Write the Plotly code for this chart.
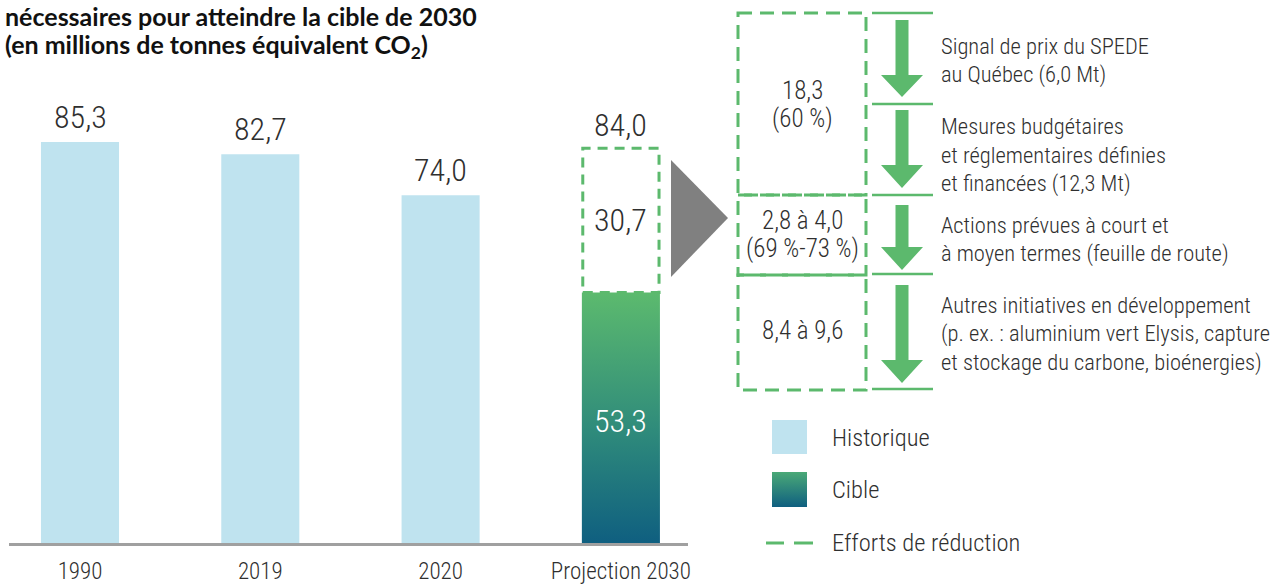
import plotly.graph_objects as go

# ---------------- data ----------------
categories = ["1990", "2019", "2020", "Projection 2030"]
historique = [85.3, 82.7, 74.0]
cible_2030 = 53.3
efforts_2030 = 30.7
projection_2030 = 84.0

title_lines = ["nécessaires pour atteindre la cible de 2030",
               "(en millions de tonnes équivalent CO<sub>2</sub>)"]

box_labels = [["18,3", "(60 %)"], ["2,8 à 4,0", "(69 %-73 %)"], ["8,4 à 9,6"]]
measure_labels = [
    ["Signal de prix du SPEDE", "au Québec (6,0 Mt)"],
    ["Mesures budgétaires", "et réglementaires définies", "et financées (12,3 Mt)"],
    ["Actions prévues à court et", "à moyen termes (feuille de route)"],
    ["Autres initiatives en développement",
     "(p. ex. : aluminium vert Elysis, capture",
     "et stockage du carbone, bioénergies)"],
]
legend_labels = ["Historique", "Cible", "Efforts de réduction"]


def fmt(v):
    return f"{v:.1f}".replace(".", ",")


# ---------------- style ----------------
W, H = 1287, 584
FONT = "Roboto Condensed, Liberation Sans Narrow, Roboto, Arial Narrow, sans-serif"
WT = 300
TXT = "#2f2f2f"
BLUE_LIGHT = "#bfe3ef"
GREEN = "#5cb96d"
GRAD = [[0.0, "#0f5f80"], [0.45, "#2f8b7b"], [1.0, "#5cba6e"]]
DASH = "14px,8px"
BAR_W = 0.433

fig = go.Figure()

# historic bars
fig.add_trace(go.Bar(
    x=list(range(len(historique))), y=historique, width=BAR_W,
    marker=dict(color=BLUE_LIGHT, line=dict(width=0)),
    hoverinfo="skip", showlegend=False, xaxis="x", yaxis="y"))

# target bar (gradient)
ci = 3
fig.add_trace(go.Scatter(
    x=[ci - BAR_W / 2, ci + BAR_W / 2, ci + BAR_W / 2, ci - BAR_W / 2, ci - BAR_W / 2],
    y=[0, 0, cible_2030, cible_2030, 0],
    mode="lines", line=dict(width=0), fill="toself",
    fillgradient=dict(type="vertical", colorscale=GRAD),
    hoverinfo="skip", showlegend=False, xaxis="x", yaxis="y"))

# legend gradient square (pixel axes, y reversed)
fig.add_trace(go.Scatter(
    x=[772, 807, 807, 772, 772], y=[472, 472, 507, 507, 472],
    mode="lines", line=dict(width=0), fill="toself",
    fillgradient=dict(type="vertical",
                      colorscale=[[0.0, "#0f5f80"], [1.0, "#4aa977"]]),
    hoverinfo="skip", showlegend=False, xaxis="x2", yaxis="y2"))

shapes = []
annotations = []

# efforts dashed box on projection bar
shapes.append(dict(type="rect", xref="x", yref="y",
                   x0=ci - BAR_W / 2 + 0.005, x1=ci + BAR_W / 2 - 0.005,
                   y0=cible_2030, y1=projection_2030,
                   line=dict(color=GREEN, width=3, dash="10px,7px")))

# value labels
LBL = 32
for i, v in enumerate(historique):
    annotations.append(dict(x=i, y=v, xref="x", yref="y", text=fmt(v),
                            showarrow=False, yshift=25,
                            font=dict(family=FONT, size=LBL, color=TXT, weight=WT)))
annotations.append(dict(x=ci, y=projection_2030, xref="x", yref="y",
                        text=fmt(projection_2030), showarrow=False, yshift=23,
                        font=dict(family=FONT, size=LBL, color=TXT, weight=WT)))
annotations.append(dict(x=ci, y=cible_2030 + efforts_2030 / 2, xref="x", yref="y",
                        text=fmt(efforts_2030), showarrow=False,
                        font=dict(family=FONT, size=LBL, color=TXT, weight=WT)))
annotations.append(dict(x=ci, y=cible_2030 / 2, xref="x", yref="y",
                        text=fmt(cible_2030), showarrow=False, yshift=-3,
                        font=dict(family=FONT, size=LBL, color="white", weight=WT)))

# title
for t, yy in zip(title_lines, [16, 46]):
    annotations.append(dict(x=3, y=yy, xref="x2", yref="y2", text=t,
                            showarrow=False, xanchor="left", yanchor="middle",
                            font=dict(family="Lato, Open Sans, sans-serif",
                                      size=25, color="#111111", weight="bold")))

# grey triangle
shapes.append(dict(type="path", xref="x2", yref="y2",
                   path="M 671,160 L 728,218 L 671,277 Z",
                   fillcolor="#808080", line=dict(width=0)))

# right-hand dashed boxes
for y0, y1 in [(13, 195), (195, 275), (275, 390)]:
    shapes.append(dict(type="rect", xref="x2", yref="y2",
                       x0=738, x1=866, y0=y0, y1=y1,
                       line=dict(color=GREEN, width=3, dash=DASH)))

# separators
for yy in [13, 104, 195, 274, 389]:
    shapes.append(dict(type="line", xref="x2", yref="y2",
                       x0=872, x1=933, y0=yy, y1=yy,
                       line=dict(color=GREEN, width=2.5)))

# arrows
cx = 902
for yt, yh, ytip in [(20, 75, 97), (110, 165, 188), (205, 247, 270), (285, 360, 383)]:
    p = (f"M {cx-6.5},{yt} L {cx+6.5},{yt} L {cx+6.5},{yh} L {cx+21},{yh} "
         f"L {cx},{ytip} L {cx-21},{yh} L {cx-6.5},{yh} Z")
    shapes.append(dict(type="path", xref="x2", yref="y2", path=p,
                       fillcolor=GREEN, line=dict(width=0)))

# box labels
box_y = [[90, 118], [220, 248], [330]]
for lines, ys in zip(box_labels, box_y):
    for t, yy in zip(lines, ys):
        annotations.append(dict(x=802, y=yy, xref="x2", yref="y2", text=t,
                                showarrow=False, xanchor="center", yanchor="middle",
                                font=dict(family=FONT, size=25, color=TXT, weight=WT)))

# measure texts
meas_y = [[46, 74], [126, 155, 183], [225, 253], [305, 333, 362]]
for lines, ys in zip(measure_labels, meas_y):
    for t, yy in zip(lines, ys):
        annotations.append(dict(x=939, y=yy, xref="x2", yref="y2", text=t,
                                showarrow=False, xanchor="left", yanchor="middle",
                                font=dict(family=FONT, size=22.5, color=TXT, weight=WT)))

# legend
shapes.append(dict(type="rect", xref="x2", yref="y2", x0=772, x1=807, y0=420, y1=454,
                   fillcolor=BLUE_LIGHT, line=dict(width=0)))
for x0, x1 in [(766, 784), (794, 813)]:
    shapes.append(dict(type="line", xref="x2", yref="y2", x0=x0, x1=x1, y0=543, y1=543,
                       line=dict(color=GREEN, width=3)))
for t, yy in zip(legend_labels, [437, 489, 542]):
    annotations.append(dict(x=830, y=yy, xref="x2", yref="y2", text=t,
                            showarrow=False, xanchor="left", yanchor="middle",
                            font=dict(family=FONT, size=24.5, color=TXT, weight=WT)))

x_left, x_right = 9, 688
px_per_cat = 180.3
c0 = 80
baseline = 543
px_per_unit = 4.70

fig.update_layout(
    template="none",
    width=W, height=H,
    margin=dict(l=0, r=0, t=0, b=0, pad=0, autoexpand=False),
    paper_bgcolor="white", plot_bgcolor="rgba(0,0,0,0)",
    showlegend=False,
    xaxis=dict(domain=[x_left / W, x_right / W],
               range=[(x_left - c0) / px_per_cat, (x_right - c0) / px_per_cat],
               tickvals=list(range(len(categories))), ticktext=categories,
               tickfont=dict(family=FONT, size=23, color=TXT, weight=WT),
               ticks="outside", ticklen=6, tickcolor="rgba(0,0,0,0)",
               showline=True, linecolor="#a0a0a0", linewidth=2.5,
               showgrid=False, zeroline=False, fixedrange=True, anchor="y",
               automargin=False),
    yaxis=dict(domain=[1 - baseline / H, 1], range=[0, baseline / px_per_unit],
               visible=False, showgrid=False, zeroline=False, fixedrange=True, anchor="x",
               automargin=False),
    xaxis2=dict(domain=[0, 1], range=[0, W], visible=False, anchor="y2",
                fixedrange=True, automargin=False),
    yaxis2=dict(domain=[0, 1], range=[H, 0], visible=False, anchor="x2",
                fixedrange=True, automargin=False),
    shapes=shapes, annotations=annotations,
)

fig.write_html("out.html", config={"displayModeBar": False},
               post_script="document.body.style.margin='0';")
